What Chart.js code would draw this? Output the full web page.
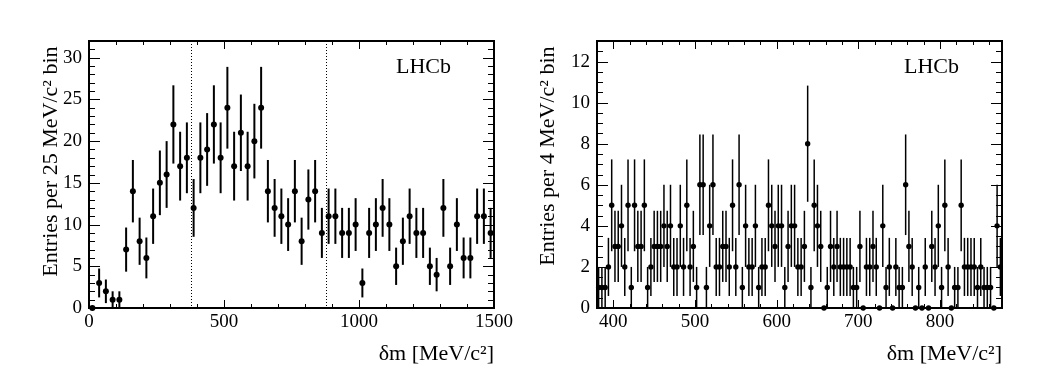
<!DOCTYPE html>
<html>
<head>
<meta charset="utf-8">
<script src="https://cdn.jsdelivr.net/npm/chart.js@4.4.1/dist/chart.umd.min.js"></script>
<style>
    html, body { margin: 0; padding: 0; background: #fff; }
    #wrap { position: relative; width: 1044px; height: 386px; }
    .panel { position: absolute; top: 0; height: 386px; }
    #left-panel { left: 0; width: 520px; }
    #right-panel { left: 520px; width: 524px; }
</style>
</head>
<body>
<div id="wrap">
    <div class="panel" id="left-panel"><canvas id="left-chart" width="520" height="386"></canvas></div>
    <div class="panel" id="right-panel"><canvas id="right-chart" width="524" height="386"></canvas></div>
</div>
<script>
// left: 25 MeV/c^2 bins, 0 - 1500
const leftBinStart = 0;
const leftBinWidth = 25;
const leftCounts = [
    0, 3, 2, 1, 1, 7, 14, 8, 6, 11,
    15, 16, 22, 17, 18, 12, 18, 19, 22, 18,
    24, 17, 21, 17, 20, 24, 14, 12, 11, 10,
    14, 8, 13, 14, 9, 11, 11, 9, 9, 10,
    3, 9, 10, 12, 10, 5, 8, 11, 9, 9,
    5, 4, 12, 5, 10, 6, 6, 11, 11, 9,
];
const leftXTicks = [0, 500, 1000, 1500];
const leftYTicks = [0, 5, 10, 15, 20, 25, 30];
const signalWindow = [377, 879];

// right: 4 MeV/c^2 bins, 380 - 876
const rightBinStart = 380;
const rightBinWidth = 4;
const rightCounts = [
    1, 1, 1, 2, 5, 3, 3, 4, 2, 5, 1, 5, 3, 3, 5, 1, 2, 3, 3, 3, 4, 3, 4, 2, 2,
    4, 2, 5, 2, 3, 1, 6, 6, 1, 4, 6, 2, 2, 3, 3, 2, 5, 2, 6, 1, 4, 2, 2, 4,
    1, 2, 2, 5, 4, 3, 4, 4, 1, 3, 4, 4, 2, 2, 3, 8, 1, 5, 4, 3, 0, 1, 3, 2, 3,
    2, 2, 2, 2, 1, 1, 3, 0, 2, 2, 3, 2, 0, 4, 1, 2, 0, 2, 1, 1, 6, 3, 2, 0, 1,
    0, 2, 0, 3, 2, 4, 1, 5, 2, 0, 1, 1, 5, 2, 2, 2, 2, 1, 2, 1, 1, 1, 0, 4, 2,
];
const rightXTicks = [400, 500, 600, 700, 800];
const rightYTicks = [0, 2, 4, 6, 8, 10, 12];

const serif = 'Liberation Serif';

function toPoints(counts, start, width) {
    return counts.map((n, i) => ({ x: start + width * (i + 0.5), y: n }));
}

// sqrt(N) error bars, nothing for empty bins
const errorBars = {
    id: 'errorBars',
    beforeDatasetsDraw(chart, args, opts) {
        const { ctx, scales: { y } } = chart;
        const meta = chart.getDatasetMeta(0);
        const values = chart.data.datasets[0].data;
        ctx.save();
        ctx.strokeStyle = '#000';
        ctx.lineWidth = opts.width;
        meta.data.forEach((pt, i) => {
            const n = values[i].y;
            if (n <= 0) return;
            const err = Math.sqrt(n);
            ctx.beginPath();
            ctx.moveTo(pt.x, y.getPixelForValue(n - err));
            ctx.lineTo(pt.x, y.getPixelForValue(n + err));
            ctx.stroke();
        });
        ctx.restore();
    },
};

// ROOT style frame: box with inward ticks on all four sides
const rootFrame = {
    id: 'rootFrame',
    beforeDatasetsDraw(chart, args, o) {
        const { ctx, chartArea: a, scales: { x, y } } = chart;
        ctx.save();
        ctx.strokeStyle = '#000';

        (o.vlines || []).forEach(v => {
            const px = Math.round(x.getPixelForValue(v)) + 0.5;
            ctx.lineWidth = 1;
            ctx.setLineDash([1, 2]);
            ctx.beginPath();
            ctx.moveTo(px, a.top);
            ctx.lineTo(px, a.bottom);
            ctx.stroke();
        });
        ctx.setLineDash([]);

        ctx.lineWidth = 1;
        ctx.beginPath();
        const isMajor = (v, step) => Math.abs(v / step - Math.round(v / step)) < 1e-6;
        for (let v = Math.ceil(x.min / o.xMinor) * o.xMinor; v <= x.max + 1e-6; v += o.xMinor) {
            const px = Math.round(x.getPixelForValue(v)) + 0.5;
            const len = isMajor(v, o.xMajor) ? 8 : 4;
            ctx.moveTo(px, a.bottom);
            ctx.lineTo(px, a.bottom - len);
            ctx.moveTo(px, a.top);
            ctx.lineTo(px, a.top + len);
        }
        for (let v = Math.ceil(y.min / o.yMinor) * o.yMinor; v <= y.max + 1e-6; v += o.yMinor) {
            const py = Math.round(y.getPixelForValue(v)) + 0.5;
            const len = isMajor(v, o.yMajor) ? 11 : 6;
            ctx.moveTo(a.left, py);
            ctx.lineTo(a.left + len, py);
            ctx.moveTo(a.right, py);
            ctx.lineTo(a.right - len, py);
        }
        ctx.stroke();

        ctx.lineWidth = 2;
        ctx.strokeRect(a.left, a.top, a.right - a.left, a.bottom - a.top);
        ctx.restore();
    },
    afterDraw(chart, args, o) {
        const { ctx, chartArea: a } = chart;
        ctx.save();
        ctx.fillStyle = '#000';
        ctx.font = '22px "' + serif + '"';
        ctx.textAlign = 'right';
        ctx.textBaseline = 'alphabetic';
        ctx.fillText('LHCb', a.right - 43, a.top + 32);
        ctx.restore();
    },
};

function buildChart(canvasId, cfg) {
    const tickFont = { family: serif, size: 19 };
    const titleFont = { family: serif, size: 22 };

    return new Chart(document.getElementById(canvasId), {
        type: 'scatter',
        data: {
            datasets: [{
                data: cfg.points,
                pointRadius: cfg.radius,
                pointBackgroundColor: '#000',
                pointBorderWidth: 0,
                showLine: false,
                clip: false,
            }],
        },
        options: {
            responsive: false,
            devicePixelRatio: 1,
            animation: false,
            events: [],
            layout: { padding: { left: 0, top: 41, right: cfg.padRight, bottom: 0 } },
            plugins: {
                legend: { display: false },
                tooltip: { enabled: false },
                errorBars: { width: cfg.errWidth },
                rootFrame: cfg.frame,
            },
            scales: {
                x: {
                    type: 'linear',
                    min: cfg.xMin,
                    max: cfg.xMax,
                    grid: { display: false, drawTicks: false },
                    border: { display: false },
                    afterBuildTicks: s => { s.ticks = cfg.xTicks.map(v => ({ value: v })); },
                    afterFit: s => { s.height = 78; },
                    ticks: {
                        font: tickFont,
                        color: '#000',
                        padding: 3,
                        maxRotation: 0,
                        autoSkip: false,
                        callback: v => String(v),
                    },
                    title: {
                        display: true,
                        text: 'δm [MeV/c²]',
                        align: 'end',
                        color: '#000',
                        font: titleFont,
                        padding: { top: 0, bottom: 19 },
                    },
                },
                y: {
                    type: 'linear',
                    min: 0,
                    max: cfg.yMax,
                    grid: { display: false, drawTicks: false },
                    border: { display: false },
                    afterBuildTicks: s => { s.ticks = cfg.yTicks.map(v => ({ value: v })); },
                    afterFit: s => { s.width = cfg.yWidth; },
                    ticks: { font: tickFont, color: '#000', padding: 7, callback: v => String(v) },
                    title: {
                        display: true,
                        text: cfg.yTitle + ' ',
                        align: 'end',
                        color: '#000',
                        font: titleFont,
                        padding: { top: cfg.yTitlePad, bottom: 0 },
                    },
                },
            },
        },
        plugins: [rootFrame, errorBars],
    });
}

buildChart('left-chart', {
    points: toPoints(leftCounts, leftBinStart, leftBinWidth),
    radius: 3,
    errWidth: 2,
    xMin: 0,
    xMax: 1500,
    yMax: 32,
    xTicks: leftXTicks,
    yTicks: leftYTicks,
    yWidth: 89,
    padRight: 26,
    yTitle: 'Entries per 25 MeV/c² bin',
    yTitlePad: 38,
    frame: { xMinor: 100, xMajor: 500, yMinor: 1, yMajor: 5, vlines: signalWindow },
});

buildChart('right-chart', {
    points: toPoints(rightCounts, rightBinStart, rightBinWidth),
    radius: 2.7,
    errWidth: 1.5,
    xMin: 380,
    xMax: 876,
    yMax: 13,
    xTicks: rightXTicks,
    yTicks: rightYTicks,
    yWidth: 77,
    padRight: 42,
    yTitle: 'Entries per 4 MeV/c² bin',
    yTitlePad: 15,
    frame: { xMinor: 20, xMajor: 100, yMinor: 0.5, yMajor: 2, vlines: [] },
});
</script>
</body>
</html>
